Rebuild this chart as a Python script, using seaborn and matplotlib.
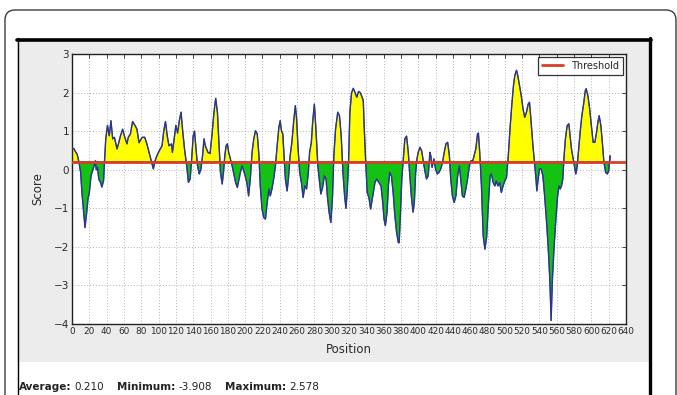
import matplotlib
matplotlib.use("Agg")
import matplotlib.pyplot as plt
from matplotlib.patches import FancyBboxPatch, Rectangle
from matplotlib.lines import Line2D
from matplotlib.transforms import IdentityTransform
import numpy as np
import pandas as pd
import seaborn as sns

# Sliding-window score profile along the sequence
position = [
    0, 2, 4, 6, 8, 10, 11.5, 13.5, 15, 17, 18.5, 20, 22, 25, 27, 28, 29.5, 31, 33, 34.5,
    36.5, 37.5, 39, 41, 43, 45, 47, 49, 52, 54, 56, 58.5, 61, 63.5, 65, 67.5, 70, 73, 75,
    77.5, 81, 84, 86.5, 89, 91.5, 94, 96, 98, 101, 104, 106, 108, 110, 112, 115, 116,
    118.5, 120, 122, 124, 126, 128, 130, 132.5, 134.5, 136.5, 138.5, 140, 141.5, 143, 145,
    147, 149, 151, 152.5, 154, 157, 159.5, 162, 164, 166, 168, 169.5, 171.5, 173.5, 175,
    176.5, 178, 179.5, 181, 183, 185, 187, 189, 191, 193, 194.5, 196.5, 198.5, 200, 202,
    204, 206, 208, 210, 212, 214, 216, 217.5, 219.5, 221.5, 223.5, 225.5, 227.5, 229, 231,
    233, 235, 237, 239, 240.5, 242, 243.5, 245, 246.5, 248.5, 250, 252, 254, 256, 258,
    259.5, 261, 263, 265, 267, 269, 271, 273, 274.5, 276.5, 278, 280, 282, 284, 286, 287.5,
    289.5, 291.5, 293.5, 295, 297, 299, 301, 302.5, 304.5, 307, 309, 311, 313, 315, 316.5,
    318, 319.5, 321, 323, 325, 327, 329, 331, 333, 334.5, 336.5, 337.5, 339, 341, 343, 345,
    347.5, 350, 352, 354.5, 357, 359, 360.5, 362, 364, 365.5, 367, 369, 371, 373, 375, 377,
    378, 379.5, 381, 383, 384.5, 386.5, 388.5, 390, 392, 394, 395.5, 397, 398.5, 400, 402,
    404, 406, 408, 409.5, 411.5, 413.5, 414.5, 416, 418, 420, 422, 424, 426, 428, 430, 432,
    434, 436, 437.5, 439.5, 441.5, 443.5, 445.5, 447.5, 449, 451, 453, 455, 457, 459, 461,
    463, 464.5, 466.5, 468.5, 469.5, 471, 473, 475, 477, 479, 481, 483, 484.5, 486.5, 488.5,
    490, 492, 494, 496, 498, 500, 502, 504, 506, 508, 510, 511.5, 513.5, 515, 517, 519, 521,
    523, 525, 527, 528.5, 529.5, 531, 532.5, 534.5, 536, 537, 538.5, 540, 542, 544, 546, 548,
    550, 552, 553.5, 555, 557, 559, 561, 562.5, 564, 565.5, 567, 568.5, 570, 572, 574, 575,
    577, 579, 581, 582, 583.5, 585, 587, 589, 591, 593, 594, 596, 598, 600, 602, 604, 606,
    607.5, 609, 611, 613, 614.5, 616.5, 618.5, 620, 621.5,
]
score = [
    0.55, 0.55, 0.47, 0.40, 0.20, -0.07, -0.60, -1.10, -1.50, -1.10, -0.75, -0.60, -0.15, 0.06,
    0.23, 0.00, 0.06, -0.25, -0.33, -0.45, -0.28, 0.20, 0.80, 1.15, 0.88, 1.27, 0.80, 0.84,
    0.54, 0.70, 0.88, 1.05, 0.84, 0.67, 0.84, 0.93, 1.25, 1.14, 1.05, 0.70, 0.84, 0.84, 0.67,
    0.45, 0.23, 0.02, 0.23, 0.36, 0.50, 0.62, 1.00, 1.25, 0.88, 0.62, 0.67, 0.45, 0.88, 1.15,
    0.95, 1.27, 1.49, 0.97, 0.54, 0.10, -0.33, -0.24, 0.36, 0.88, 1.00, 0.62, 0.10, -0.11,
    0.02, 0.40, 0.80, 0.62, 0.45, 0.42, 0.97, 1.49, 1.85, 1.49, 0.80, -0.07, -0.37, -0.07,
    0.36, 0.62, 0.67, 0.45, 0.28, 0.10, -0.11, -0.33, -0.46, -0.24, -0.07, 0.10, -0.03,
    -0.16, -0.33, -0.68, -0.24, 0.45, 0.80, 1.01, 0.93, 0.36, -0.42, -1.02, -1.24, -1.28,
    -0.85, -0.50, -0.68, -0.50, -0.24, 0.10, 0.62, 1.10, 1.27, 1.01, 0.93, 0.36, -0.24,
    -0.55, -0.24, 0.36, 0.71, 1.23, 1.66, 1.32, 0.62, -0.07, -0.33, -0.72, -0.42, -0.50,
    -0.07, 0.45, 0.71, 1.23, 1.70, 0.97, 0.10, -0.33, -0.63, -0.46, -0.16, -0.24, -0.68,
    -1.10, -1.37, -0.68, 0.36, 1.06, 1.49, 1.40, 0.88, -0.07, -0.70, -1.00, -0.55, 0.20,
    1.49, 2.00, 2.11, 2.00, 1.88, 2.03, 2.00, 1.92, 1.79, 1.14, 0.36, -0.59, -0.72, -1.02,
    -0.68, -0.33, -0.24, -0.33, -0.42, -0.85, -1.28, -1.45, -1.10, -0.42, -0.07, -0.16,
    -0.59, -1.20, -1.63, -1.89, -1.89, -1.10, -0.24, 0.36, 0.80, 0.87, 0.45, -0.07, -0.68,
    -1.10, -0.85, -0.07, 0.28, 0.45, 0.58, 0.49, 0.19, -0.07, -0.24, -0.16, 0.45, 0.36,
    0.06, 0.28, 0.02, -0.11, -0.07, 0.02, 0.19, 0.45, 0.67, 0.71, 0.36, -0.24, -0.68, -0.85,
    -0.68, -0.16, 0.10, -0.24, -0.68, -0.72, -0.50, -0.24, 0.10, 0.23, 0.23, 0.36, 0.54,
    0.93, 0.95, 0.45, -0.42, -1.71, -2.06, -1.75, -0.90, -0.16, -0.11, -0.33, -0.42, -0.29,
    -0.42, -0.33, -0.59, -0.42, -0.29, -0.20, 0.36, 1.06, 1.66, 2.18, 2.44, 2.578, 2.44,
    2.18, 1.92, 1.58, 1.36, 1.49, 1.70, 1.75, 1.49, 1.06, 0.62, 0.15, -0.24, -0.55, -0.24,
    0.02, 0.02, -0.16, -0.68, -1.28, -1.97, -2.84, -3.908, -2.84, -1.97, -1.28, -0.68, -0.42,
    -0.50, -0.42, -0.24, 0.36, 0.80, 1.14, 1.19, 0.97, 0.54, 0.28, 0.02, -0.11, 0.06, 0.45,
    0.97, 1.40, 1.70, 2.05, 2.10, 1.92, 1.58, 1.14, 0.71, 0.71, 0.97, 1.23, 1.40, 1.14, 0.62,
    0.19, -0.07, -0.11, -0.03, 0.36,
]
threshold = 0.210
summary_labels = ["Average:", "Minimum:", "Maximum:"]
summary_values = ["0.210", "-3.908", "2.578"]
x_ticks = list(range(0, 641, 20))
y_ticks = [-4, -3, -2, -1, 0, 1, 2, 3]

df = pd.DataFrame({"Position": position, "Score": score})

sns.set_theme(style="white")
plt.rcParams["font.family"] = ["DejaVu Sans"]

W, H = 677, 395
fig = plt.figure(figsize=(W / 100, H / 100), dpi=100)
fig.patch.set_facecolor("white")
ident = IdentityTransform()

# page frame and panel background (pixel coordinates, origin bottom-left)
fig.patches.append(FancyBboxPatch((5, -30), 671, 30 + H - 10,
                                  boxstyle="round,pad=0,rounding_size=10",
                                  transform=ident, facecolor="white",
                                  edgecolor="#3c3c3c", linewidth=1.0, zorder=0))
fig.patches.append(Rectangle((17, H - 362), 633, 362 - 39, transform=ident,
                             facecolor="#ececec", edgecolor="none", zorder=1))
fig.lines.append(Line2D([17.5, 17.5], [0, H - 38], transform=ident,
                        color="black", linewidth=1.0, zorder=3))
fig.lines.append(Line2D([17, 651], [H - 39.5, H - 39.5], transform=ident,
                        color="black", linewidth=2.6, zorder=3))
fig.lines.append(Line2D([649.5, 649.5], [0, H - 38], transform=ident,
                        color="black", linewidth=2.4, zorder=3))

ax = fig.add_axes([72 / W, (H - 324) / H, (626 - 72) / W, (324 - 54) / H])
ax.set_facecolor("white")
ax.set_zorder(2)

x = np.asarray(df["Position"], dtype=float)
y = np.asarray(df["Score"], dtype=float)
ax.fill_between(x, y, threshold, where=y >= threshold, interpolate=True,
                facecolor="#ffff00", edgecolor="#5b5b5b", linewidth=0.8, zorder=2)
ax.fill_between(x, y, threshold, where=y <= threshold, interpolate=True,
                facecolor="#14c214", edgecolor="#2f6f7f", linewidth=0.8, zorder=2)
sns.lineplot(data=df, x="Position", y="Score", ax=ax, color="#2b3590",
             linewidth=1.0, estimator=None, zorder=3, legend=False)
ax.axhline(threshold, color="#d6402a", linewidth=2.0, zorder=4, label="Threshold")

ax.set_xlim(0, 640)
ax.set_ylim(-4, 3)
ax.set_xticks(x_ticks)
ax.set_xticklabels([str(t) for t in x_ticks])
ax.set_yticks(y_ticks)
ax.grid(True, color="#b4b4b4", linestyle=(0, (1, 2)), linewidth=0.7)
ax.tick_params(axis="both", direction="in", length=3, width=0.6, top=True, right=True,
               pad=2, colors="#2a2a2a")
ax.tick_params(axis="x", labelsize=6.4)
ax.tick_params(axis="y", labelsize=7.5)
for side in ax.spines.values():
    side.set_color("#222222")
    side.set_linewidth(1.0)
ax.set_xlabel("Position", fontsize=8.5, labelpad=5, color="#2a2a2a")
ax.set_ylabel("Score", fontsize=8.5, labelpad=7, color="#2a2a2a")

leg = ax.legend(loc="upper right", fontsize=7, frameon=True, fancybox=False,
                handlelength=2.2, borderpad=0.4, borderaxespad=0.3)
leg.get_frame().set_edgecolor("black")
leg.get_frame().set_linewidth(0.9)

# summary line under the panel, bold labels followed by plain values
fig.canvas.draw()
renderer = fig.canvas.get_renderer()
cursor = 19
for lab, val in zip(summary_labels, summary_values):
    t = fig.text(cursor / W, 5 / H, lab, fontsize=7.5, fontweight="bold",
                 color="#222222", ha="left", va="baseline")
    cursor += t.get_window_extent(renderer).width + 3
    t = fig.text(cursor / W, 5 / H, val, fontsize=7.5, color="#222222",
                 ha="left", va="baseline")
    cursor += t.get_window_extent(renderer).width + 13

fig.savefig("out.png", dpi=100, facecolor=fig.get_facecolor())
